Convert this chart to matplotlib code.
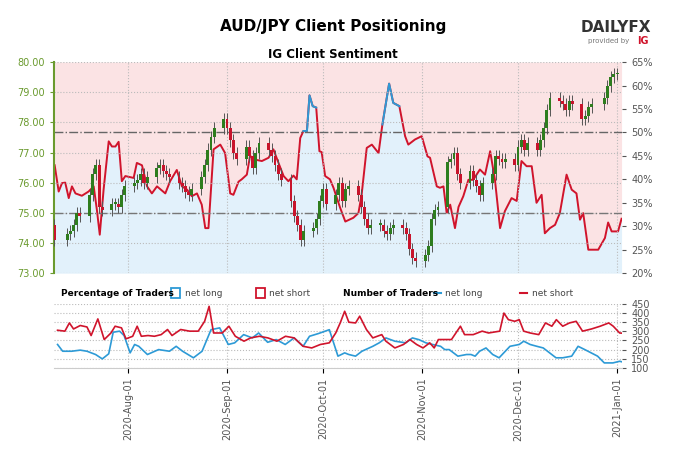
import matplotlib
matplotlib.use("Agg")
import matplotlib.pyplot as plt
import matplotlib.dates as mdates
import numpy as np
import pandas as pd
from matplotlib.patches import Rectangle
from matplotlib.lines import Line2D

BASE = pd.Timestamp("2020-07-10")

candle_dates = ["2020-07-09","2020-07-13","2020-07-14","2020-07-15","2020-07-16","2020-07-17",
 "2020-07-20","2020-07-21","2020-07-22","2020-07-23","2020-07-24","2020-07-27","2020-07-28","2020-07-29","2020-07-30","2020-07-31",
 "2020-08-03","2020-08-04","2020-08-05","2020-08-06","2020-08-07","2020-08-10","2020-08-11","2020-08-12","2020-08-13","2020-08-14",
 "2020-08-17","2020-08-18","2020-08-19","2020-08-20","2020-08-21","2020-08-24","2020-08-25","2020-08-26","2020-08-27","2020-08-28","2020-08-31",
 "2020-09-01","2020-09-02","2020-09-03","2020-09-04","2020-09-07","2020-09-08","2020-09-09","2020-09-10","2020-09-11",
 "2020-09-14","2020-09-15","2020-09-16","2020-09-17","2020-09-18","2020-09-21","2020-09-22","2020-09-23","2020-09-24","2020-09-25",
 "2020-09-28","2020-09-29","2020-09-30","2020-10-01","2020-10-02","2020-10-05","2020-10-06","2020-10-07","2020-10-08","2020-10-09",
 "2020-10-12","2020-10-13","2020-10-14","2020-10-15","2020-10-16","2020-10-19","2020-10-20","2020-10-21","2020-10-22","2020-10-23",
 "2020-10-26","2020-10-27","2020-10-28","2020-10-29","2020-10-30","2020-11-02","2020-11-03","2020-11-04","2020-11-05","2020-11-06",
 "2020-11-09","2020-11-10","2020-11-11","2020-11-12","2020-11-13","2020-11-16","2020-11-17","2020-11-18","2020-11-19","2020-11-20",
 "2020-11-23","2020-11-24","2020-11-25","2020-11-26","2020-11-27","2020-11-30","2020-12-01","2020-12-02","2020-12-03","2020-12-04",
 "2020-12-07","2020-12-08","2020-12-09","2020-12-10","2020-12-11","2020-12-14","2020-12-15","2020-12-16","2020-12-17","2020-12-18",
 "2020-12-21","2020-12-22","2020-12-23","2020-12-24","2020-12-28","2020-12-29","2020-12-30","2020-12-31","2021-01-01","2021-01-03"]
candle_close = [74.1,74.3,74.4,74.6,75.0,74.9,
 75.6,76.3,76.6,75.2,75.1,75.3,75.3,75.2,75.6,75.9,
 76.0,76.1,76.3,76.0,76.2,76.5,76.6,76.4,76.3,76.2,
 76.0,75.9,75.7,75.6,75.8,76.2,76.6,77.1,77.5,77.8,78.1,
 77.8,77.4,77.0,76.8,77.2,76.9,76.5,77.0,77.3,
 77.1,76.9,76.6,76.3,76.1,75.4,74.9,74.6,74.1,74.4,
 74.5,74.8,75.4,75.8,75.3,75.6,76.0,75.4,75.8,75.9,
 75.6,75.2,74.8,74.5,74.6,74.6,74.4,74.3,74.5,74.6,
 74.5,74.3,73.8,73.5,73.4,73.6,73.9,74.8,75.1,75.2,
 76.7,76.8,77.0,76.3,76.0,76.4,76.1,75.9,75.6,76.0,
 76.3,76.9,76.8,76.7,76.8,76.6,77.2,77.4,77.1,77.3,
 77.1,77.4,77.8,78.4,78.8,78.7,78.6,78.4,78.7,78.6,
 78.1,78.2,78.5,78.6,78.8,79.2,79.5,79.6,79.6,79.0]
candle_open0 = 74.6

pct_days = [-0.9,0.35,1.4,2.4,3.5,4.5,5.6,7.6,9.7,11.3,12.3,13.2,14.4,16,17,18.1,19.1,20.1,21.2,23.8,24.8,26.4,28,29.5,31.1,33.7,35.2,37.3,38.9,40.5,42,43.6,45.1,46.2,47.2,48.8,50.9,52.4,54,55,56.6,57.6,59.2,60.2,61.8,63.9,66,67.5,69.1,70.7,72.2,73.8,74.8,75.9,76.9,78,78.8,79.8,80.9,81.9,82.6,83.7,85.2,86.3,88.4,
 90,92.5,94.1,95.1,96.7,98.3,100.4,101.6,103.7,105,106.9,108.7,109.7,111.8,113.9,115.7,116.5,118.6,119.6,120.7,121.7,122.8,124.3,125.4,126.9,128.5,130,132.1,133.7,135.3,136.8,138.4,139.9,142,143.6,145.1,146.7,148.3,149.8,151.4,152.4,154,155.6,157.1,159.2,160.8,162.3,163.4,164.4,166,169.1,171.2,172.2,173.3,175.3,176.4]
pct_long = [43,37.4,39.2,39.3,36,38.5,37,36.5,37.4,38.5,33.5,28.2,37.8,48.1,47,47,48,39.6,40.7,40.3,43.5,43,38.5,37,38.5,37,39.6,42,38.5,37.8,36.4,37,34.6,29.6,29.6,46.4,47.4,45.6,37,36.7,39.5,40,41,45,44.2,43.9,44.6,46.4,43.5,40.7,39.6,40.8,40,48.8,50.3,50.3,57.9,55.6,55.3,46,45.8,40.7,40,38.2,33.9,
 31,31.8,32.8,36.7,46.7,47.4,45.6,51.7,60.4,56.3,55.6,49.2,47.4,48.5,49.2,44.9,44.6,38.5,38.2,38.5,32.8,34.6,29.6,34.1,36.4,39.9,39.9,42.1,41,46,39.9,29.6,33.2,36,35.4,43.9,42.8,42.8,35,36.7,28.5,29.6,30.3,32.8,41,37.8,37,31.4,32.8,25,25,27.5,30.8,28.9,28.9,31.6]

short_days = [0,2.3,3.7,5,7.1,9.2,10.5,12.6,14.6,16.7,18,20,21.4,23.5,24.9,26.2,28.3,30.3,32.4,34.4,35.8,38.5,41.3,44,46,47.4,48.8,51.5,53.6,55.6,58.3,60.4,63.1,65.8,68.6,71.3,74,76.8,79.5,82.2,85,87,88.4,89.8,91.1,93.2,94.5,96.6,98.6,101.4,102.7,105.5,108.2,110.2,112.3,114.3,116.4,117.8,119.1,123.2,126,127.3,130,132.8,134.8,138.3,139.6,141,143,144.4,145.8,147.8,150.5,152.6,154.6,156,158,160.1,162.2,164.2,167,169.7,172.4,173.8,175.8,177.9]
short_num = [306,301,346,313,332,324,277,368,255,291,328,319,259,273,328,273,277,273,282,310,277,310,301,301,355,437,291,291,328,273,246,264,273,264,246,273,264,218,209,228,237,291,346,410,350,346,383,310,264,282,246,209,228,255,228,209,237,209,255,255,328,282,282,301,291,301,400,364,355,364,301,291,282,346,328,364,328,346,355,301,313,328,346,328,291,288]
long_days = [0,1.6,4.4,7.1,9.2,11.9,14,16,17.4,19.4,20.8,22.7,24.1,25.4,28.1,31.6,35,37.1,39.1,42.5,45.2,48,50.7,53.4,55.4,58.2,60.9,62.9,65.7,68.4,71.2,74,76.8,78.8,81.6,85,87.7,89.8,91.1,93.2,95.2,98.6,100.6,102.7,105.5,108.9,111,113.1,115.2,117.3,119.8,121.1,122.5,125.2,127.9,129.3,130.6,132,134,136.1,138.1,141.5,144.4,145.8,147.8,149.9,151.9,153.9,155.9,158,160.8,162.8,164.9,166.9,168.9,171,173.7,175.8,177.9,179.4]
long_num = [228,191,191,197,191,173,149,177,295,301,277,182,228,218,173,200,191,218,191,155,191,309,319,228,237,282,264,291,240,255,228,264,218,273,288,309,164,182,173,164,191,218,237,264,246,237,264,254,237,228,218,200,200,164,173,173,164,191,209,173,155,218,228,246,228,218,209,182,155,155,164,218,200,182,164,127,127,136,127,140]

ORANGE_GREEN = "#6a9a2e"
fig = plt.figure(figsize=(6.8, 4.53), dpi=100)
ax = fig.add_axes([0.079, 0.397, 0.836, 0.466])
axp = ax.twinx()
d2n = lambda days: mdates.date2num(BASE + pd.to_timedelta(np.asarray(days, float), unit="D"))
px = d2n(pct_days)
pl = np.array(pct_long)
xmin, xmax = d2n([-1.2])[0], d2n([176.6])[0]

axp.fill_between(px, 20, pl, color="#e2f1fb", zorder=0, lw=0)
axp.fill_between(px, pl, 65, color="#fbe3e4", zorder=0, lw=0)
axp.plot(px, pl, color="#d0142c", lw=1.4, zorder=3)
hi = np.ma.masked_where(pl < 50, pl)
axp.plot(px, hi, color="#2d9ad6", lw=1.4, zorder=4)
axp.set_ylim(20, 65)
axp.set_yticks(range(20, 70, 5))
axp.set_yticklabels([f"{v}%" for v in range(20, 70, 5)])
axp.tick_params(axis="y", labelsize=7, colors="#555555", length=3)

# candles on top
cx = d2n([(pd.Timestamp(d) - BASE).days for d in candle_dates])
opens = [candle_open0] + candle_close[:-1]
for x, o, c in zip(cx, opens, candle_close):
    col = "#2e7d1e" if c >= o else "#c8142c"
    axp.vlines(x, 0, 0, alpha=0)
    ax.vlines(x, min(o, c) - 0.2, max(o, c) + 0.2, color="#555555", lw=0.7, zorder=5)
    ax.add_patch(Rectangle((x - 0.45, min(o, c)), 0.9, max(abs(c - o), 0.05),
                           facecolor=col, edgecolor="none", zorder=6))
ax.set_zorder(axp.get_zorder() + 1)
ax.patch.set_visible(False)
ax.axhline(77.67, color="#666666", lw=1, ls="-.", zorder=2)
ax.axhline(75.0, color="#777777", lw=1, ls="-.", zorder=2)
ax.set_ylim(73, 80)
ax.set_yticks(np.arange(73, 80.5, 1))
ax.set_yticklabels([f"{v:.2f}" for v in np.arange(73, 80.5, 1)])
ax.tick_params(axis="y", labelsize=7, colors=ORANGE_GREEN, length=3)
ax.set_xlim(xmin, xmax)
ticks = mdates.date2num(pd.to_datetime(["2020-08-01","2020-09-01","2020-10-01","2020-11-01","2020-12-01","2021-01-01"]))
ax.set_xticks(ticks)
ax.tick_params(axis="x", labelbottom=False, length=0)
ax.grid(True, color="#bbbbbb", ls=":", lw=0.8)
for a in (ax, axp):
    for s in ("top", "right", "bottom"):
        a.spines[s].set_visible(False)
axp.spines["left"].set_visible(False)
ax.spines["left"].set_color(ORANGE_GREEN)
ax.spines["left"].set_linewidth(1.5)

# bottom panel
bx = fig.add_axes([0.079, 0.188, 0.836, 0.141])
bx.plot(d2n(long_days), long_num, color="#2d9ad6", lw=1.2)
bx.plot(d2n(short_days), short_num, color="#d0142c", lw=1.2)
bx.set_xlim(xmin, xmax)
bx.set_ylim(100, 450)
bx.set_yticks(range(100, 500, 50))
bx.yaxis.tick_right()
bx.tick_params(axis="y", labelsize=7, colors="#555555", length=3)
bx.set_xticks(ticks)
bx.set_xticklabels(["2020-Aug-01","2020-Sep-01","2020-Oct-01","2020-Nov-01","2020-Dec-01","2021-Jan-01"],
                   rotation=90, fontsize=7, color="#555555")
bx.grid(True, color="#bbbbbb", ls=":", lw=0.8)
for s in ("top", "right", "left"):
    bx.spines[s].set_visible(False)
bx.spines["bottom"].set_color("#cccccc")

# legend row
fy = 1 - 293 / 453
fig.text(0.09, fy, "Percentage of Traders", fontsize=6.5, weight="bold", va="center")
fig.patches.append(Rectangle((0.252, fy - 0.011), 0.013, 0.022, transform=fig.transFigure, fill=False, ec="#2d9ad6", lw=1.3))
fig.text(0.272, fy, "net long", fontsize=6.5, va="center", color="#444444")
fig.patches.append(Rectangle((0.376, fy - 0.011), 0.013, 0.022, transform=fig.transFigure, fill=False, ec="#d0142c", lw=1.3))
fig.text(0.395, fy, "net short", fontsize=6.5, va="center", color="#444444")
fig.text(0.505, fy, "Number of Traders", fontsize=6.5, weight="bold", va="center")
fig.lines.append(Line2D([0.638, 0.648], [fy, fy], transform=fig.transFigure, color="#2d9ad6", lw=1.5))
fig.text(0.655, fy, "net long", fontsize=6.5, va="center", color="#444444")
fig.lines.append(Line2D([0.765, 0.775], [fy, fy], transform=fig.transFigure, color="#d0142c", lw=1.5))
fig.text(0.782, fy, "net short", fontsize=6.5, va="center", color="#444444")

fig.text(0.49, 1 - 27 / 453, "AUD/JPY Client Positioning", fontsize=11, weight="bold", ha="center", va="center")
fig.text(0.49, 1 - 54 / 453, "IG Client Sentiment", fontsize=8.5, weight="bold", ha="center", va="center")
fig.text(0.905, 1 - 28 / 453, "DAILYFX", fontsize=11, weight="bold", ha="center", va="center", color="#333333")
fig.text(0.895, 1 - 41 / 453, "provided by", fontsize=5, ha="center", va="center", color="#777777")
fig.text(0.945, 1 - 41 / 453, "IG", fontsize=7, weight="bold", ha="center", va="center", color="#d0142c")

fig.savefig("out.png", dpi=100)
